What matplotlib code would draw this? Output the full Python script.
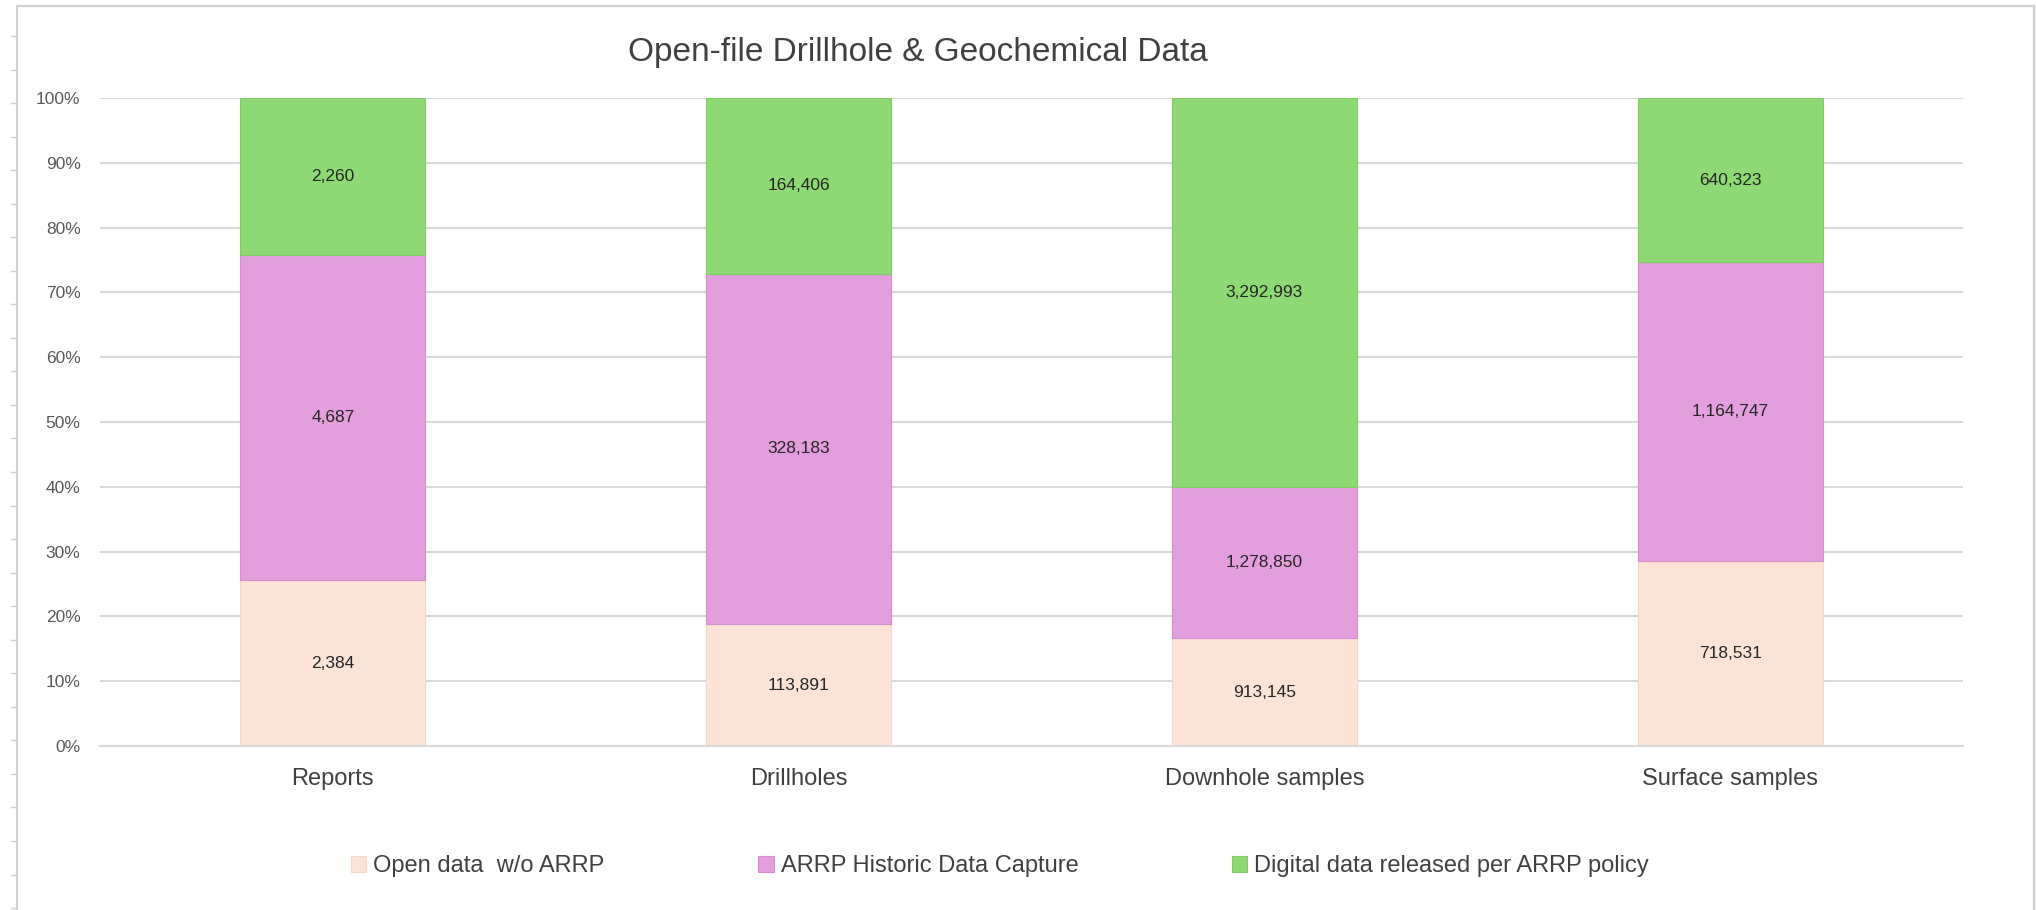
import matplotlib
matplotlib.use("Agg")
import matplotlib.pyplot as plt
from matplotlib.lines import Line2D
from matplotlib.patches import Patch
import numpy as np

# counts per category, stacked bottom to top
categories = ["Reports", "Drillholes", "Downhole samples", "Surface samples"]
open_data = [2384, 113891, 913145, 718531]
historic_capture = [4687, 328183, 1278850, 1164747]
digital_released = [2260, 164406, 3292993, 640323]
series_names = ["Open data  w/o ARRP", "ARRP Historic Data Capture",
                "Digital data released per ARRP policy"]

colors = ["#FBE3D6", "#E39EDC", "#8ED973"]
edges = ["#F5D8C8", "#D58ECE", "#82CC68"]

fonts = ["Liberation Sans", "DejaVu Sans"]

W, H = 2036, 910
fig = plt.figure(figsize=(W / 100, H / 100), dpi=100)
fig.patch.set_facecolor("white")

# spreadsheet frame behind the chart
fig.add_artist(Line2D([17 / W, 17 / W], [0, 1 - 6 / H], color="#D0D0D0", lw=1.5))
fig.add_artist(Line2D([17 / W, 2034 / W], [1 - 6 / H, 1 - 6 / H], color="#D0D0D0", lw=1.5))
fig.add_artist(Line2D([2034 / W, 2034 / W], [0, 1 - 6 / H], color="#D0D0D0", lw=1.5))
for k in range(27):
    yy = 1 - (36 + 33.54 * k) / H
    fig.add_artist(Line2D([11 / W, 17 / W], [yy, yy], color="#D0D0D0", lw=1))

ax = fig.add_axes([100 / W, 1 - 746 / H, (1963 - 100) / W, (746 - 98) / H])

data = np.array([open_data, historic_capture, digital_released], dtype=float)
totals = data.sum(axis=0)
shares = data / totals * 100
x = np.arange(len(categories))
bottom = np.zeros(len(categories))
for i in range(3):
    bars = ax.bar(x, shares[i], bottom=bottom, width=0.397, color=colors[i],
                  edgecolor=edges[i], linewidth=0.8, zorder=2)
    for j, b in enumerate(bars):
        ax.text(b.get_x() + b.get_width() / 2, bottom[j] + shares[i][j] / 2,
                f"{int(data[i][j]):,}", ha="center", va="center",
                fontsize=12.5, family=fonts, color="#262626", zorder=3)
    bottom += shares[i]

ax.set_xlim(-0.5, len(categories) - 0.5)
ax.set_ylim(0, 100)
ax.set_yticks(np.arange(0, 101, 10))
ax.set_yticklabels([f"{v}%" for v in range(0, 101, 10)], family=fonts,
                   fontsize=12.5, color="#595959")
ax.set_xticks(x)
ax.set_xticklabels(categories, family=fonts, fontsize=17, color="#404040")
ax.tick_params(axis="y", length=0, pad=14)
ax.tick_params(axis="x", length=0, pad=16)
ax.grid(axis="y", color="#D9D9D9", lw=1.5, zorder=0)
ax.set_axisbelow(True)
for s in ["top", "right", "left"]:
    ax.spines[s].set_visible(False)
ax.spines["bottom"].set_color("#D9D9D9")
ax.spines["bottom"].set_linewidth(1.5)

fig.text(918 / W, 1 - 53 / H, "Open-file Drillhole & Geochemical Data",
         ha="center", va="center", family=fonts, fontsize=24, color="#404040")

handles = [Patch(facecolor=c, edgecolor=e, lw=0.8) for c, e in zip(colors, edges)]
fig.legend(handles, series_names, loc="center", bbox_to_anchor=(1000 / W, 1 - 866 / H),
           ncol=3, frameon=False, prop={"family": fonts, "size": 17},
           handlelength=0.65, handleheight=0.65, handletextpad=0.3,
           columnspacing=6.5, labelcolor="#404040")

fig.savefig("out.png", dpi=100, facecolor="white")
